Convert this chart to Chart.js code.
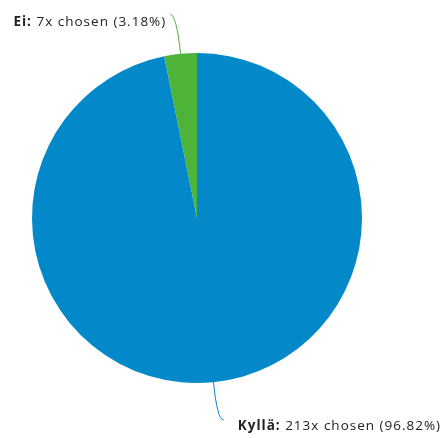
<!DOCTYPE html>
<html>
<head>
<meta charset="utf-8">
<script src="https://cdn.jsdelivr.net/npm/chart.js@4/dist/chart.umd.min.js"></script>
<style>
  html, body { margin: 0; padding: 0; background: #fff; }
  #wrap { width: 445px; height: 438px; position: relative; }
</style>
</head>
<body>
<div id="wrap"><canvas id="c" width="445" height="438"></canvas></div>
<script>
// Answer options and how many times each was chosen
const categories = ['Kyllä', 'Ei'];
const counts = [213, 7];
const percents = ['96.82', '3.18'];
const sliceColors = ['#0389c9', '#4db339'];

const LABEL_SIZE = 13.5;
const LABEL_SPACING = 1;

// Draws "Name: Nx chosen (P%)" callouts with curved leader lines
const calloutPlugin = {
  id: 'callouts',
  afterDatasetsDraw(chart) {
    const ctx = chart.ctx;
    const meta = chart.getDatasetMeta(0);
    meta.data.forEach((arc, i) => {
      const mid = (arc.startAngle + arc.endAngle) / 2;
      const dx = Math.cos(mid), dy = Math.sin(mid);
      const r = arc.outerRadius;
      const sx = arc.x + dx * r, sy = arc.y + dy * r;
      const side = dx >= 0 ? 1 : -1;
      const up = dy < 0;
      const len = 38;
      const cx = sx + dx * len, cy = sy + dy * len;
      const ex = cx + side * 6.5, ey = cy + (up ? -2 : 0);

      ctx.save();
      ctx.strokeStyle = sliceColors[i];
      ctx.lineWidth = 1;
      ctx.beginPath();
      ctx.moveTo(sx, sy);
      ctx.quadraticCurveTo(cx, cy, ex, ey);
      ctx.stroke();

      const bold = categories[i] + ':';
      const rest = ' ' + counts[i] + 'x chosen (' + percents[i] + '%)';
      ctx.textBaseline = 'alphabetic';
      ctx.textAlign = 'left';
      ctx.fillStyle = '#222';
      ctx.letterSpacing = LABEL_SPACING + 'px';
      ctx.font = 'bold ' + LABEL_SIZE + 'px "Open Sans"';
      const bw = ctx.measureText(bold).width;
      ctx.font = LABEL_SIZE + 'px "Open Sans"';
      const rw = ctx.measureText(rest).width - LABEL_SPACING;
      const ty = up ? ey + 12 : ey + 10.5;
      const tx = up ? ex - 5 - bw - rw : ex + 14;
      ctx.font = 'bold ' + LABEL_SIZE + 'px "Open Sans"';
      ctx.fillText(bold, tx, ty);
      ctx.font = LABEL_SIZE + 'px "Open Sans"';
      ctx.fillText(rest, tx + bw, ty);
      ctx.restore();
    });
  }
};

new Chart(document.getElementById('c'), {
  type: 'pie',
  data: {
    labels: categories,
    datasets: [{
      data: counts,
      backgroundColor: sliceColors,
      borderWidth: 0
    }]
  },
  options: {
    responsive: false,
    animation: false,
    layout: { padding: { left: 32, right: 83, top: 53, bottom: 55 } },
    plugins: { legend: { display: false }, tooltip: { enabled: false } }
  },
  plugins: [calloutPlugin]
});
</script>
</body>
</html>
